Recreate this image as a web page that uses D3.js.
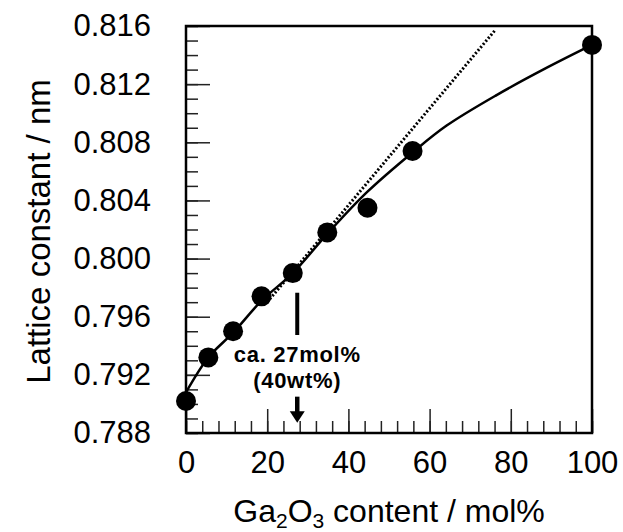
<!DOCTYPE html>
<html>
<head>
<meta charset="utf-8">
<script src="https://d3js.org/d3.v7.min.js"></script>
<style>
  body { margin: 0; background: #fff; }
  text { font-family: "Liberation Sans", Arial, Helvetica, sans-serif; fill: #000; }
</style>
</head>
<body>
<script>
// measured points (Ga2O3 mol%, lattice constant nm)
var molPct  = [0, 5.5, 11.6, 18.6, 26.3, 34.8, 44.7, 55.8, 100];
var lattice = [0.7902, 0.7932, 0.7950, 0.7974, 0.7990, 0.8018, 0.8035, 0.8074, 0.8147];

// solid fitted curve
var fitX = [0, 5.5, 11.6, 18.6, 26.3, 34.8, 44.7, 55.8, 64.2, 76.5, 89, 100];
var fitY = [0.7908, 0.7932, 0.7949, 0.7971, 0.7990, 0.8017, 0.8046, 0.8073, 0.80915, 0.81125, 0.81315, 0.8147];

// dotted linear extrapolation
var dotX = [20, 76.1];
var dotY = [0.7970, 0.8157];

var xTicks = [0, 20, 40, 60, 80, 100];
var yTicks = [0.788, 0.792, 0.796, 0.800, 0.804, 0.808, 0.812, 0.816];

var w = 623, h = 532;
var mL = 186, mR = 592, mT = 26, mB = 433;

var x = d3.scaleLinear().domain([0, 100]).range([mL, mR]);
var y = d3.scaleLinear().domain([0.788, 0.816]).range([mB, mT]);

var svg = d3.select("body").append("svg").attr("width", w).attr("height", h);

// minor ticks
var xMinor = d3.range(0, 101, 4);
var yMinor = d3.range(0, 29).map(function(i){ return 0.788 + i * 0.001; });

svg.append("g").attr("transform", "translate(0," + mB + ")")
  .call(d3.axisBottom(x).tickValues(xMinor).tickSize(-12).tickFormat(""))
  .call(function(g){ g.select(".domain").remove(); })
  .selectAll("line").attr("stroke", "#222").attr("stroke-width", 1.5);
svg.append("g").attr("transform", "translate(" + mL + ",0)")
  .call(d3.axisLeft(y).tickValues(yMinor).tickSize(-12).tickFormat(""))
  .call(function(g){ g.select(".domain").remove(); })
  .selectAll("line").attr("stroke", "#222").attr("stroke-width", 1.5);

// major ticks + labels
var xa = svg.append("g").attr("transform", "translate(0," + mB + ")")
  .call(d3.axisBottom(x).tickValues(xTicks).tickSize(-24).tickPadding(18).tickFormat(d3.format("d")));
xa.select(".domain").remove();
xa.selectAll("line").attr("stroke", "#222").attr("stroke-width", 1.5);
xa.selectAll("text").attr("font-size", 31).attr("fill", "#000")
  .attr("font-family", "'Liberation Sans', Arial, sans-serif");

var ya = svg.append("g").attr("transform", "translate(" + mL + ",0)")
  .call(d3.axisLeft(y).tickValues(yTicks).tickSize(-24).tickPadding(35).tickFormat(d3.format(".3f")));
ya.select(".domain").remove();
ya.selectAll("line").attr("stroke", "#222").attr("stroke-width", 1.5);
ya.selectAll("text").attr("font-size", 31).attr("fill", "#000")
  .attr("font-family", "'Liberation Sans', Arial, sans-serif");

// frame
svg.append("rect").attr("x", mL).attr("y", mT)
  .attr("width", mR - mL).attr("height", mB - mT)
  .attr("fill", "none").attr("stroke", "#000").attr("stroke-width", 2.5);

// lines
var line = d3.line().x(function(d){ return x(d[0]); }).y(function(d){ return y(d[1]); });
svg.append("path")
  .attr("d", line(dotX.map(function(v, i){ return [v, dotY[i]]; })))
  .attr("fill", "none").attr("stroke", "#000").attr("stroke-width", 3)
  .attr("stroke-dasharray", "2,2");
svg.append("path")
  .attr("d", line.curve(d3.curveCatmullRom)(fitX.map(function(v, i){ return [v, fitY[i]]; })))
  .attr("fill", "none").attr("stroke", "#000").attr("stroke-width", 2.5);

// points
svg.append("g").selectAll("circle")
  .data(molPct.map(function(v, i){ return [v, lattice[i]]; }))
  .enter().append("circle")
  .attr("cx", function(d){ return x(d[0]); })
  .attr("cy", function(d){ return y(d[1]); })
  .attr("r", 10).attr("fill", "#000");

// annotation at ~27 mol%
var ax = x(27.4);
svg.append("line").attr("x1", ax).attr("x2", ax)
  .attr("y1", y(0.79765)).attr("y2", y(0.79474))
  .attr("stroke", "#000").attr("stroke-width", 4);
svg.append("text").attr("x", ax).attr("y", 362).attr("text-anchor", "middle")
  .attr("font-size", 22).attr("font-weight", "bold").attr("letter-spacing", 0.7)
  .text("ca. 27mol%");
svg.append("text").attr("x", ax).attr("y", 388).attr("text-anchor", "middle")
  .attr("font-size", 22).attr("font-weight", "bold").attr("letter-spacing", 0.7)
  .text("(40wt%)");
var aTop = y(0.7905), aHead = y(0.7895), aTip = y(0.78871);
svg.append("line").attr("x1", ax).attr("x2", ax).attr("y1", aTop).attr("y2", aHead + 1)
  .attr("stroke", "#000").attr("stroke-width", 4.5);
svg.append("path")
  .attr("d", "M" + (ax - 7.5) + "," + aHead + "L" + (ax + 7.5) + "," + aHead + "L" + ax + "," + aTip + "Z")
  .attr("fill", "#000");

// axis titles
svg.append("text")
  .attr("transform", "translate(50," + ((mT + mB) / 2 + 2) + ") rotate(-90)")
  .attr("text-anchor", "middle").attr("font-size", 33)
  .text("Lattice constant / nm");

var xt = svg.append("text").attr("x", (mL + mR) / 2).attr("y", 522)
  .attr("text-anchor", "middle").attr("font-size", 32);
xt.append("tspan").text("Ga");
xt.append("tspan").attr("font-size", 21).attr("dy", 6).text("2");
xt.append("tspan").attr("dy", -6).text("O");
xt.append("tspan").attr("font-size", 21).attr("dy", 6).text("3");
xt.append("tspan").attr("dy", -6).text(" content / mol%");
</script>
</body>
</html>
